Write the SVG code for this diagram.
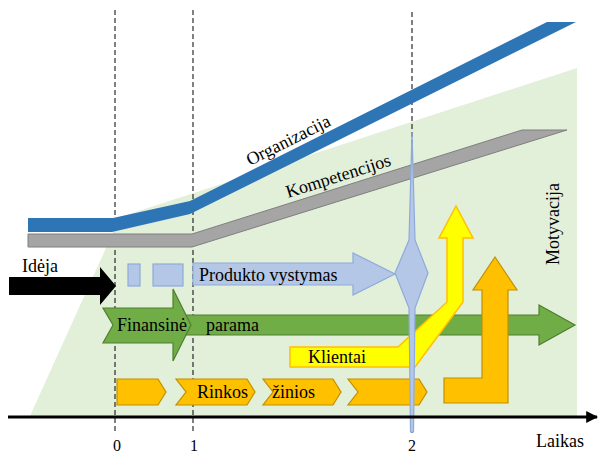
<svg xmlns="http://www.w3.org/2000/svg" width="600" height="456" viewBox="0 0 600 456">
<style>
text{font-family:"Liberation Serif","Times New Roman",serif;fill:#000}
.t18{font-size:18px}
.t16{font-size:16px}
.dash{stroke:#000;stroke-width:1;stroke-dasharray:5,3;fill:none}
.lb{fill:#b4c7e7;stroke:#8eaadb;stroke-width:1.2}
.gr{fill:#70ad47;stroke:#507e32;stroke-width:1.2}
.ye{fill:#ffff00;stroke:#ffc000;stroke-width:1.5}
.or{fill:#ffc000;stroke:#bf9000;stroke-width:1.2}
</style>
<defs>
<marker id="ah" viewBox="0 0 10 10" refX="9" refY="5" markerWidth="4" markerHeight="4" orient="auto" markerUnits="strokeWidth">
<path d="M0,0 L10,5 L0,10 Z" fill="#000"/>
</marker>
</defs>
<rect width="600" height="456" fill="#fff"/>
<g id="motyvacija-bg">
<polygon points="30,416 120,217 577,68 577,416" fill="#e2efd9"/>
</g>
<g id="guides">
<line class="dash" x1="115" y1="10" x2="115" y2="433"/>
<line class="dash" x1="193" y1="10" x2="193" y2="433"/>
<line class="dash" x1="412" y1="12" x2="412" y2="433"/>
</g>
<g id="organizacija">
<polygon points="28,218 113,218 190,201 547,22 576,22 190,214 112,232 28,232" fill="#2e75b6"/>
<text class="t18" transform="translate(250,166) rotate(-26.6)">Organizacija</text>
</g>
<g id="kompetencijos">
<polygon points="28,234 192,234 522,130 567,130 192,247 28,247" fill="#a5a5a5" stroke="#7f7f7f" stroke-width="1"/>
<text class="t18" transform="translate(288,198) rotate(-17.5)">Kompetencijos</text>
</g>
<g id="motyvacija-label">
<text class="t18" transform="translate(559,265) rotate(-90)">Motyvacija</text>
</g>
<g id="ideja">
<polygon points="9,277 100,277 100,267 116,286 100,305 100,295 9,295" fill="#000"/>
<text class="t18" x="22" y="272">Idėja</text>
</g>
<g id="produkto-vystymas">
<rect class="lb" x="128" y="264" width="12" height="22"/>
<rect class="lb" x="153" y="264" width="30" height="22"/>
<polygon class="lb" points="193,263 353,263 353,253 395,274 353,295 353,285 193,285"/>
<text class="t18" x="199" y="281">Produkto vystymas</text>
</g>
<g id="parama">
<polygon class="gr" points="180,315 539,315 539,305 575,325 539,345 539,335 180,335"/>
<text class="t18" x="206" y="331">parama</text>
</g>
<g id="finansine">
<polygon class="gr" points="103,308 173,308 173,289 191,325 173,361 173,343 103,343 113,325"/>
<text class="t18" x="117" y="331">Finansinė</text>
</g>
<g id="klientai">
<polygon class="ye" points="290,347 398,347 447,302 447,238 439,238 456,206 473,238 463,238 463,302 415,367 290,367"/>
<text class="t18" x="308" y="363">Klientai</text>
</g>
<g id="rinkos-zinios">
<polygon class="or" points="117,379 158,379 166,392 158,405 117,405"/>
<polygon class="or" points="176,379 247,379 255,392 247,405 176,405 186,392"/>
<polygon class="or" points="263,379 333,379 341,392 333,405 263,405 273,392"/>
<polygon class="or" points="348,379 419,379 427,392 419,405 348,405 358,392"/>
<text class="t18" x="197" y="398">Rinkos</text>
<text class="t18" x="272" y="398">žinios</text>
</g>
<g id="l-arrow">
<polygon class="or" points="444,378 482,378 482,290 473,290 495,257 517,290 508,290 508,403 444,403"/>
</g>
<g id="milestone-2">
<polygon class="lb" points="412,132 415,240 428,273 415,308 413.5,432 410.5,432 409,308 395,273 409,240"/>
</g>
<g id="axis">
<line x1="8" y1="417" x2="597" y2="417" stroke="#000" stroke-width="3" marker-end="url(#ah)"/>
<text class="t18" x="536" y="447">Laikas</text>
<text class="t16" x="117" y="451" text-anchor="middle">0</text>
<text class="t16" x="194" y="451" text-anchor="middle">1</text>
<text class="t16" x="412" y="451" text-anchor="middle">2</text>
</g>
</svg>
